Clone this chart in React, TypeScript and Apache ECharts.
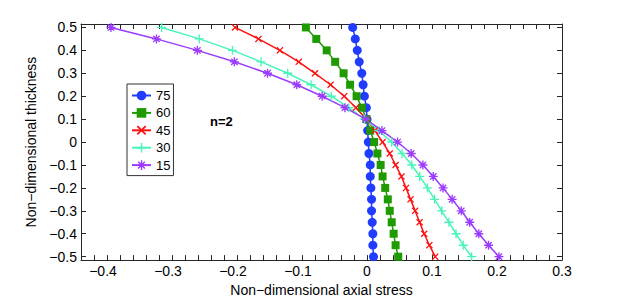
import React, { useEffect, useRef } from "react";
import * as echarts from "echarts";

// Non-dimensional thickness (y values, shared by all series)
const thickness = [
  0.5, 0.45, 0.4, 0.35, 0.3, 0.25, 0.2, 0.15, 0.1, 0.05, 0,
  -0.05, -0.1, -0.15, -0.2, -0.25, -0.3, -0.35, -0.4, -0.45, -0.5,
];

// Non-dimensional axial stress for each angle
const stress75 = [
  -0.022, -0.018, -0.015, -0.012, -0.008, -0.006, -0.004, -0.001, 0.0, 0.001, 0.002,
  0.003, 0.005, 0.005, 0.006, 0.007, 0.007, 0.008, 0.009, 0.009, 0.01,
];
const stress60 = [
  -0.094, -0.078, -0.062, -0.049, -0.036, -0.026, -0.016, -0.008, -0.001, 0.005, 0.011,
  0.016, 0.021, 0.024, 0.028, 0.032, 0.035, 0.038, 0.041, 0.044, 0.048,
];
const stress45 = [
  -0.203, -0.167, -0.134, -0.105, -0.08, -0.056, -0.035, -0.017, -0.001, 0.012, 0.024,
  0.035, 0.044, 0.053, 0.06, 0.067, 0.074, 0.081, 0.088, 0.096, 0.105,
];
const stress30 = [
  -0.316, -0.258, -0.207, -0.163, -0.122, -0.086, -0.055, -0.028, -0.004, 0.018, 0.038,
  0.054, 0.069, 0.081, 0.093, 0.104, 0.115, 0.126, 0.137, 0.148, 0.161,
];
const stress15 = [
  -0.394, -0.324, -0.261, -0.204, -0.153, -0.108, -0.069, -0.034, -0.002, 0.023, 0.047,
  0.068, 0.086, 0.102, 0.117, 0.131, 0.145, 0.158, 0.172, 0.187, 0.203,
];

const seriesNames = ["75", "60", "45", "30", "15"];
const seriesValues = [stress75, stress60, stress45, stress30, stress15];

const FONT = '"Liberation Sans", Arial, Helvetica, sans-serif';

const PLUS =
  "path://M-1.5,-10 L1.5,-10 L1.5,-1.5 L10,-1.5 L10,1.5 L1.5,1.5 L1.5,10 L-1.5,10 L-1.5,1.5 L-10,1.5 L-10,-1.5 L-1.5,-1.5 Z";
const CROSS_D =
  "M6.01,-8.13 L8.13,-6.01 L2.12,0 L8.13,6.01 L6.01,8.13 L0,2.12 L-6.01,8.13 L-8.13,6.01 L-2.12,0 L-8.13,-6.01 L-6.01,-8.13 L0,-2.12 Z";
const CROSS = "path://" + CROSS_D;
const STAR =
  "path://M-1.5,-10 L1.5,-10 L1.5,-1.5 L10,-1.5 L10,1.5 L1.5,1.5 L1.5,10 L-1.5,10 L-1.5,1.5 L-10,1.5 L-10,-1.5 L-1.5,-1.5 Z " +
  CROSS_D;

const styles = [
  { color: "#1f3cff", symbol: "circle", size: 9 },
  { color: "#1f9a00", symbol: "rect", size: 8 },
  { color: "#ff1010", symbol: CROSS, size: 7 },
  { color: "#48f5b8", symbol: PLUS, size: 9 },
  { color: "#9b3cff", symbol: STAR, size: 9 },
];

const fmt = (v: number) => {
  const r = Math.round(v * 10);
  if (Math.abs(v * 10 - r) > 1e-6) return "";
  if (r === 0) return "0";
  return (r / 10).toFixed(1).replace("-", "\u2212");
};
const fmtX = (v: number) => {
  const s = fmt(v);
  if (s.startsWith("\u2212")) return "{n|" + s + "}";
  return s;
};

const AXIS_COLOR = "#262626";

export default function App() {
  const ref = useRef<HTMLDivElement>(null);
  useEffect(() => {
    if (!ref.current) return;
    const chart = echarts.init(ref.current, undefined, { renderer: "svg" });
    const xCommon = {
      type: "value" as const,
      min: -0.44,
      max: 0.3,
      splitNumber: 37,
      splitLine: { show: false },
      axisLine: { show: true, onZero: false, lineStyle: { color: AXIS_COLOR, width: 1 } },
      axisTick: { show: true, inside: true, length: 5, interval: 0, lineStyle: { color: AXIS_COLOR } },
    };
    const yCommon = {
      type: "value" as const,
      min: -0.515,
      max: 0.515,
      splitNumber: 10,
      splitLine: { show: false },
      axisLine: { show: true, onZero: false, lineStyle: { color: AXIS_COLOR, width: 1 } },
      axisTick: { show: true, inside: true, length: 5, lineStyle: { color: AXIS_COLOR } },
    };
    chart.setOption({
      animation: false,
      backgroundColor: "#ffffff",
      grid: { left: 81, right: 58, top: 24, bottom: 34, containLabel: false },
      textStyle: { fontFamily: FONT },
      legend: {
        orient: "vertical",
        left: 127,
        top: 84,
        padding: [5, 3, 4, 4],
        itemWidth: 19,
        itemHeight: 12,
        itemGap: 4.4,
        backgroundColor: "#ffffff",
        borderColor: "#333333",
        borderWidth: 1,
        textStyle: { fontFamily: FONT, fontSize: 13, lineHeight: 12, color: "#000" },
        data: seriesNames,
      },
      xAxis: [
        {
          ...xCommon,
          position: "bottom",
          name: "Non\u2212dimensional axial stress",
          nameLocation: "middle",
          nameGap: 17,
          nameTextStyle: { fontFamily: FONT, fontSize: 14, color: "#000" },
          axisLabel: {
            show: true,
            interval: 0,
            margin: 4,
            formatter: fmtX,
            fontFamily: FONT,
            fontSize: 14,
            color: "#000",
            rich: {
              n: { fontFamily: FONT, fontSize: 14, color: "#000", padding: [0, 8, 0, 0] },
            },
          },
        },
        {
          ...xCommon,
          position: "top",
          axisLabel: { show: false },
        },
      ],
      yAxis: [
        {
          ...yCommon,
          position: "left",
          name: "Non\u2212dimensional thickness",
          nameLocation: "middle",
          nameGap: 31,
          nameTextStyle: { fontFamily: FONT, fontSize: 14, color: "#000" },
          axisLabel: {
            show: true,
            margin: 4,
            formatter: fmt,
            fontFamily: FONT,
            fontSize: 14,
            color: "#000",
          },
        },
        {
          ...yCommon,
          position: "right",
          axisLabel: { show: false },
        },
      ],
      series: seriesNames.map((name, i) => ({
        name,
        type: "line",
        xAxisIndex: 0,
        yAxisIndex: 0,
        data: seriesValues[i].map((x, j) => [x, thickness[j]]),
        symbol: styles[i].symbol,
        symbolSize: styles[i].size,
        showAllSymbol: true,
        lineStyle: { color: styles[i].color, width: 1.5 },
        itemStyle: { color: styles[i].color },
        emphasis: { disabled: true },
      })),
      graphic: [
        {
          type: "text",
          left: 210,
          top: 115,
          style: { text: "n=2", font: `bold 13px ${FONT}`, fill: "#000" },
        },
      ],
    });
    return () => chart.dispose();
  }, []);
  return (
    <div
      ref={ref}
      style={{ position: "fixed", left: 0, top: 0, width: 620, height: 302, background: "#fff" }}
    />
  );
}
